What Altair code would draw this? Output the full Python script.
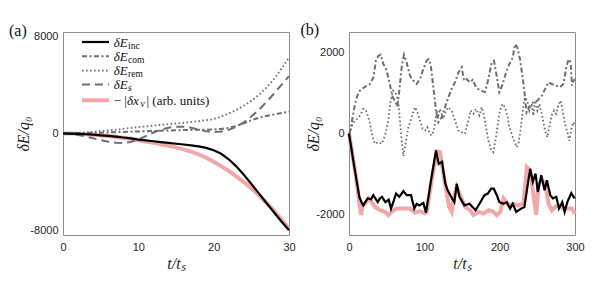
import altair as alt
import pandas as pd

# ---------------- Panel (a) data ----------------
ta = list(range(31))
a_inc = [0, -10, -30, -60, -100, -150, -200, -260, -330, -410, -500, -570, -640, -710, -780, -850,
         -910, -980, -1070, -1190, -1380, -1680, -2130, -2720, -3420, -4180, -4960, -5740, -6520, -7280, -8000]
a_xv = [0, -10, -30, -60, -100, -150, -205, -270, -345, -440, -560, -660, -770, -890, -1010, -1150,
        -1310, -1500, -1730, -2000, -2340, -2700, -3100, -3540, -4020, -4540, -5110, -5730, -6390, -7110, -7880]
a_rem = [0, 20, 50, 90, 140, 200, 260, 320, 390, 460, 530, 590, 650, 710, 770, 830,
         890, 950, 1020, 1100, 1200, 1400, 1650, 1950, 2300, 2700, 3200, 3800, 4500, 5350, 6300]
a_com = [0, 10, 25, 40, 55, 70, 90, 110, 130, 150, 170, 190, 210, 230, 250, 265,
         280, 295, 305, 315, 330, 380, 470, 620, 850, 1100, 1300, 1450, 1570, 1690, 1800]
a_s = [0, -40, -120, -250, -400, -550, -680, -760, -780, -700, -500, -220, 80, 320, 480, 560,
       560, 470, 320, 180, 110, 160, 300, 560, 920, 1400, 1950, 2600, 3300, 4030, 4750]

# ---------------- Panel (b) data ----------------
tb_inc = [0, 3, 7.1, 10, 13.7, 16.8, 19, 22, 24.8, 29.2, 32.3, 35, 38.1, 41, 43.8, 48.3, 52.7, 55.8, 59,
          62.4, 66.8, 72.2, 76.6, 82.3, 86.7, 89.8, 93.4, 98.7, 102.2, 108.9, 115.5, 119.1, 123.5, 127.9,
          131, 136.8, 139.9, 143, 146.6, 153.2, 159.9, 167.9, 173.2, 179.8, 184.3, 188.7, 192.2, 196.2,
          199.7, 205, 209.4, 213.9, 217.4, 221.9, 228.5, 232.9, 237.4, 240.5, 244, 247.6, 250.7, 255.2,
          259.6, 262.7, 267.2, 270.7, 275.2, 278.7, 283.1, 286.2, 289.8, 295.1, 299.5]
b_inc = [0, -350, -830, -1150, -1560, -1700, -1770, -1680, -1600, -1620, -1520, -1600, -1690, -1600,
         -1560, -1690, -1630, -1850, -1680, -1480, -1560, -1420, -1520, -1520, -1850, -1730, -1770,
         -1710, -1950, -1150, -420, -750, -700, -1240, -1400, -1600, -1690, -1240, -1560, -1770, -1730,
         -1890, -1730, -1520, -1480, -1360, -1360, -1520, -1690, -1730, -1690, -1850, -1730, -1930,
         -1850, -1810, -1240, -870, -1190, -990, -1440, -1030, -1400, -1150, -1520, -1600, -1560,
         -1850, -1690, -1930, -1690, -1470, -1600]

tb_xv = [0, 4, 9.3, 13.7, 15.9, 18, 21.2, 25.7, 30.1, 34.5, 41.1, 47.8, 52.2, 56.6, 63.2, 72.1, 81, 87.6,
         94.3, 100.9, 103.1, 109.8, 116.5, 120.9, 125.3, 129.8, 132.9, 136.4, 139.5, 143, 147.5, 154.1,
         160.8, 165.2, 171.9, 178.5, 185.2, 191.8, 196.2, 200.7, 205.1, 211.7, 218.4, 225, 231.7, 236.1,
         240.5, 245, 248.5, 251.6, 256.1, 260.5, 264.9, 269.4, 273.8, 278.2, 284.9, 291.5, 295.9, 300]
b_xv = [0, -450, -1070, -1690, -2010, -1800, -1730, -1600, -1690, -1810, -1890, -1930, -2010, -1930,
        -1850, -1850, -1850, -1950, -1910, -1970, -1940, -1150, -440, -460, -990, -1480, -1810, -1930,
        -1560, -1320, -1520, -1810, -1890, -2010, -1930, -1970, -1890, -1930, -2010, -1930, -1600,
        -1770, -1730, -1770, -1730, -830, -910, -1520, -2010, -1240, -1150, -1240, -1730, -1890, -1810,
        -1770, -1850, -1850, -1850, -1980]

tb_com = [0, 1.3, 4.9, 8, 11, 14.6, 21.2, 27.9, 32.3, 35.8, 38.9, 42, 45.6, 49.1, 52.2, 55.3, 58, 61,
          64.2, 66.8, 69.9, 73, 76.5, 81, 85.4, 89.8, 94.2, 98.7, 103.1, 105.3, 108.4, 111.9, 115.5,
          118.6, 123, 127.4, 131.9, 136.3, 140.7, 145.1, 149.6, 152.7, 156.2, 160.6, 164.2, 168.6, 173.9,
          180.5, 185, 189.4, 192.5, 196, 199.6, 204, 208.4, 212.8, 217.3, 220.4, 223.5, 227, 230.5,
          233.6, 235.8, 239.4, 244.7, 250, 255.8, 261.5, 264.6, 269, 274.8, 280.1, 284.5, 288.9, 291.6,
          294.2, 296, 297.8, 300]
b_com = [0, 30, 400, 730, 930, 1060, 1150, 1220, 1380, 1790, 1910, 1940, 1710, 1590, 1380, 1120, 890,
         810, 660, 1060, 1630, 1940, 1750, 1420, 1300, 1220, 1340, 1590, 1790, 1830, 1710, 1140, 570,
         280, 400, 650, 890, 1100, 1260, 1500, 1630, 1300, 1340, 1260, 1320, 1140, 1060, 1020, 1340,
         1750, 1790, 1420, 1020, 1220, 1500, 1710, 1870, 2200, 2120, 1830, 1380, 890, 520, 650, 770,
         810, 930, 1140, 1260, 1220, 1180, 1140, 1220, 1670, 1830, 1750, 1180, 1300, 1340]

tb_rem = [0, 1.3, 4.9, 8, 11, 14.6, 19, 22.6, 27, 31.4, 34.5, 38.9, 43.4, 47.8, 52.2, 55.3, 58.8, 62.4,
          65.5, 67.7, 69.9, 72.1, 75.7, 78.8, 83.2, 87.6, 90.7, 94.2, 97.8, 100.9, 104, 107.5, 109.7,
          111.9, 114.2, 116.4, 118.6, 120.8, 123, 125.2, 128.8, 131.9, 136.3, 140.7, 145.1, 149.6, 154,
          158.4, 161.5, 165, 168.6, 173, 176.1, 179.2, 181.9, 185, 188.1, 191.6, 195.1, 198.2, 200.4,
          204, 207, 210.2, 212.8, 215.9, 219, 222.6, 224.8, 227, 229.2, 231.4, 233.6, 236.7, 239.4,
          242.5, 244.7, 246.9, 250, 252.7, 255.8, 258, 260.2, 263.3, 265.9, 269, 272.1, 274.8, 277.9,
          281, 283.6, 286.7, 289.8, 292.5, 295.6, 297.8, 300]
b_rem = [0, 33, 237, 319, 360, 442, 606, 565, 319, -90, -253, -212, -253, -49, 319, 810, 1056, 974,
         770, 319, -172, -560, -172, 155, 401, 647, 524, 319, 115, 74, 155, -8, -49, 33, 237, 565, 442,
         606, 483, 360, 565, 647, 565, 319, 74, 33, -8, 319, 565, 483, 606, 442, 647, 442, 155, -172,
         -376, -460, -90, 319, 565, 728, 647, 442, 155, -8, -172, -335, -253, -8, 319, 647, 892, 810,
         565, 728, 442, 810, 565, 728, 483, 278, 74, -90, 155, 442, 565, 483, 688, 810, 565, 237, 33,
         -180, 155, 278, 196]

# ---------------- styles ----------------
BLACK = "#000000"
GRAY = "#6e6e6e"
PINK = "#f2a8a8"
STY = {
    "xv": dict(color=PINK, strokeWidth=4),
    "s": dict(color=GRAY, strokeWidth=2, strokeDash=[8, 5]),
    "rem": dict(color=GRAY, strokeWidth=1.8, strokeDash=[1.6, 2.4]),
    "com": dict(color=GRAY, strokeWidth=2, strokeDash=[5, 2.5, 2, 2.5]),
    "inc": dict(color=BLACK, strokeWidth=2.2),
}

W, H = 226, 203
LBL_FONT = "Liberation Sans"
SERIF = "Liberation Serif"


def axes(xvals, xdom, yvals, ydom, title_x):
    xa = alt.Axis(values=xvals, title="t/tₛ", ticks=False, domain=False, grid=False,
                  labelFont=LBL_FONT, labelFontSize=11, labelColor="#262626", labelPadding=6,
                  labelFlush=False, labelExpr="'' + datum.value",
                  titleFont=SERIF, titleFontStyle="italic", titleFontSize=16, titleFontWeight="normal",
                  titleColor="#222222", titlePadding=3)
    ya = alt.Axis(values=yvals, title="δE/q₀", ticks=False, domain=False, grid=False,
                  labelFont=LBL_FONT, labelFontSize=11, labelColor="#262626", labelPadding=5,
                  labelFlush=False, labelExpr="'' + datum.value",
                  titleFont=SERIF, titleFontStyle="italic", titleFontSize=16, titleFontWeight="normal",
                  titleColor="#222222", titleX=title_x, titleY=H / 2, titleAngle=-90,
                  titleAlign="center", titleBaseline="middle")
    xs = alt.Scale(domain=xdom, nice=False, zero=False)
    ys = alt.Scale(domain=ydom, nice=False, zero=False)
    return xa, ya, xs, ys


def line(t, v, key, xa, ya, xs, ys):
    df = pd.DataFrame({"t": t, "v": v})
    return alt.Chart(df).mark_line(strokeCap="butt", **STY[key]).encode(
        x=alt.X("t:Q", scale=xs, axis=xa),
        y=alt.Y("v:Q", scale=ys, axis=ya),
    )


def tag(text, x, y):
    return alt.Chart(pd.DataFrame({"lab": [text]})).mark_text(
        font=SERIF, fontSize=16, align="left", baseline="middle", color="#111111"
    ).encode(x=alt.value(x), y=alt.value(y), text="lab:N")


def txt(text, x, y, size, italic):
    kw = dict(font=SERIF, fontSize=size, align="left", baseline="alphabetic", color="#111111")
    if italic:
        kw["fontStyle"] = "italic"
    return alt.Chart(pd.DataFrame({"lab": [text]})).mark_text(**kw).encode(
        x=alt.value(x), y=alt.value(y), text="lab:N")


# ---------------- panel (a) ----------------
xa, ya, xs, ys = axes([0, 10, 20, 30], [0, 30], [-8000, 0, 8000], [-8400, 8400], -40)
layers_a = [
    line(ta, a_xv, "xv", xa, ya, xs, ys),
    line(ta, a_s, "s", xa, ya, xs, ys),
    line(ta, a_rem, "rem", xa, ya, xs, ys),
    line(ta, a_com, "com", xa, ya, xs, ys),
    line(ta, a_inc, "inc", xa, ya, xs, ys),
]

# legend (inside panel a)
leg_rows = [("inc", 10), ("com", 24.3), ("rem", 38.6), ("s", 52.6), ("xv", 68.3)]
for key, ry in leg_rows:
    layers_a.append(
        alt.Chart(pd.DataFrame({"k": [key]})).mark_rule(strokeCap="butt", **STY[key]).encode(
            x=alt.value(19), x2=alt.value(46), y=alt.value(ry))
    )
FS = 13
SUB = 9.5
for key, ry in leg_rows[:4]:
    layers_a.append(txt("δE", 50.7, ry + 4.5, FS, True))
    layers_a.append(txt(key, 65, ry + 6.5, SUB, key == "s"))
ry = leg_rows[4][1]
layers_a.append(txt("− |", 50.7, ry + 4.5, FS, False))
layers_a.append(txt("δx", 64, ry + 4.5, FS, True))
layers_a.append(txt("v", 77.5, ry + 6.5, SUB, True))
layers_a.append(txt("| (arb.  units)", 83.5, ry + 4.5, FS, False))
layers_a.append(tag("(a)", -54, -1))

panel_a = alt.layer(*layers_a).properties(width=W, height=H)

# ---------------- panel (b) ----------------
xb, yb, xsb, ysb = axes([0, 100, 200, 300], [0, 300], [-2000, 0, 2000], [-2500, 2500], -36)
layers_b = [
    line(tb_xv, b_xv, "xv", xb, yb, xsb, ysb),
    line(tb_rem, b_rem, "rem", xb, yb, xsb, ysb),
    line(tb_com, b_com, "com", xb, yb, xsb, ysb),
    line(tb_inc, b_inc, "inc", xb, yb, xsb, ysb),
    tag("(b)", -48.5, -2),
]
panel_b = alt.layer(*layers_b).properties(width=W, height=H)

chart = alt.hconcat(panel_a, panel_b, spacing=2).properties(
    padding={"left": 0, "top": 13, "right": 0, "bottom": 0},
    background="white",
).configure_view(stroke="#8c8c8c", strokeWidth=1)

chart.save("out.html", embed_options={"renderer": "svg", "actions": False})
